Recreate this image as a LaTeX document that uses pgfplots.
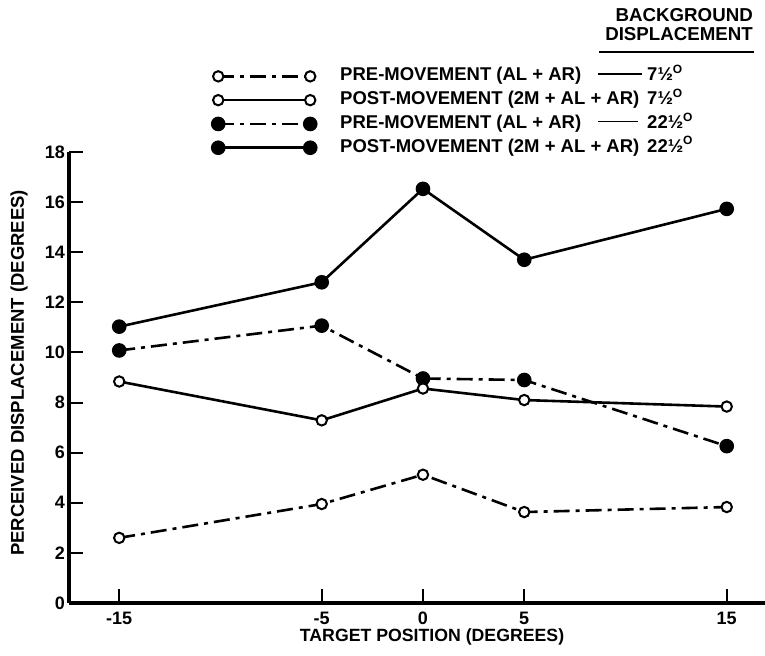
\documentclass[border=0pt]{standalone}
\usepackage{pgfplots}
\pgfplotsset{compat=1.18}
\usepackage{fontspec}
\setmainfont{Liberation Sans}
\newcommand\ff[1]{\fontsize{#1bp}{#1bp}\selectfont\bfseries}
\newcommand\degO{\raisebox{0.4em}{\fontsize{12bp}{12bp}\selectfont O}}
\newcommand\leg[2]{\makebox[307bp][l]{#1}#2\degO}
\begin{document}
\begin{tikzpicture}
\useasboundingbox (-69bp,-53bp) rectangle (696bp,603bp);
\begin{axis}[
  at={(0,0)}, anchor=south west,
  scale only axis, width=696bp, height=451bp,
  xmin=-17.48, xmax=16.89, ymin=0, ymax=18,
  axis x line=bottom, axis y line=left,
  axis line style={-, line width=3.6bp},
  xtick={-15,-5,0,5,15}, xticklabels={-15,-5,0,5,15},
  ytick={0,2,...,18}, yticklabels={0,2,4,6,8,10,12,14,16,18},
  xticklabel style={font=\ff{18}, inner sep=0pt, anchor=north, yshift=-9bp},
  yticklabel style={font=\ff{18}, inner sep=0pt, anchor=east, xshift=-4bp},
  xlabel={TARGET POSITION (DEGREES)},
  ylabel={PERCEIVED DISPLACEMENT (DEGREES)},
  xlabel style={font=\ff{17.7}, at={(axis description cs:0.5216,-0.0754)}, anchor=center},
  ylabel style={font=\ff{18.5}, at={(axis description cs:-0.0718,0.51)}, anchor=center},
  clip=false,
  legend image code/.code={\draw[#1] plot coordinates {(0bp,0bp) (92bp,0bp)};},
  legend cell align=left,
  legend style={at={(axis description cs:0.2055,1.187)}, anchor=north west,
    draw=none, fill=none, inner sep=0pt, font=\ff{18.5},
    nodes={inner sep=0pt, text height=13bp, text depth=4bp},
    row sep=6.8bp, column sep=24bp},
  openm/.style={line width=2.6bp, black, mark=*, mark size=5.2bp, mark options={solid, fill=white, line width=2bp}},
  filledm/.style={line width=2.6bp, black, mark=*, mark size=6bp, mark options={solid, fill=black}},
  dd/.style={dash pattern=on 16bp off 6bp on 4bp off 6bp},
  tick align=inside, major tick length=14bp,
  tick style={line width=2bp, black},
]
\addlegendimage{openm, dd}
\addlegendentry{\leg{PRE-MOVEMENT (AL + AR)\hfill\rule[0.33em]{44bp}{1.6bp}\hspace{5bp}}{7½}}
\addlegendimage{openm}
\addlegendentry{\leg{POST-MOVEMENT (2M + AL + AR)}{7½}}
\addlegendimage{filledm, dd}
\addlegendentry{\leg{PRE-MOVEMENT (AL + AR)\hfill\rule[0.33em]{40bp}{1.6bp}\hspace{9bp}}{22½}}
\addlegendimage{filledm}
\addlegendentry{\leg{POST-MOVEMENT (2M + AL + AR)}{22½}}

% post-movement 22.5
\addplot[filledm, forget plot] coordinates {(-15,11.03) (-5,12.8) (0,16.53) (5,13.7) (15,15.73)};
% pre-movement 22.5
\addplot[filledm, dd, forget plot] coordinates {(-15,10.08) (-5,11.07) (0,8.96) (5,8.9) (15,6.26)};
% post-movement 7.5
\addplot[openm, forget plot] coordinates {(-15,8.84) (-5,7.29) (0,8.56) (5,8.1) (15,7.84)};
% pre-movement 7.5
\addplot[openm, dd, forget plot] coordinates {(-15,2.6) (-5,3.95) (0,5.12) (5,3.63) (15,3.83)};
\end{axis}
\node[anchor=east, inner sep=0pt, font=\ff{18.7}] at (684bp,588bp) {BACKGROUND};
\node[anchor=east, inner sep=0pt, font=\ff{18.7}] at (684bp,569bp) {DISPLACEMENT};
\draw[line width=1.8bp] (530bp,551bp) -- (685bp,551bp);
\end{tikzpicture}
\end{document}
